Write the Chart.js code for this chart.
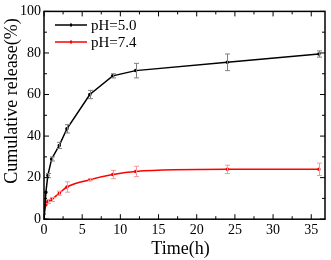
<!DOCTYPE html>
<html>
<head>
<meta charset="utf-8">
<script src="https://cdn.jsdelivr.net/npm/chart.js@4.4.0/dist/chart.umd.min.js"></script>
<style>
  html, body { margin: 0; padding: 0; background: #fff; }
</style>
</head>
<body>
<canvas id="myChartRelease" width="331" height="260"></canvas>
<script>
const times = [0, 0.25, 0.5, 1, 2, 3, 6, 9, 12, 24, 36]
const release50 = [0, 13, 21, 29, 35.5, 43.5, 60, 69, 71.5, 75.5, 79.5]
const err50 = [0, 0, 1, 1, 1.5, 2, 2, 1, 3.5, 4, 1.5]
const release74 = [2.5, 7, 8.5, 9.5, 12.5, 15.5, 19, 21.5, 23, 24, 24]
const err74 = [0, 0, 1, 1, 1, 2.5, 0.5, 2, 2.5, 2, 3]
const xTicks = [0, 5, 10, 15, 20, 25, 30, 35]
const yTicks = [0, 20, 40, 60, 80, 100]

const FONT = "'Liberation Serif', 'Times New Roman', serif"

const toPoints = (xs, ys) => xs.map((x, i) => ({ x: x, y: ys[i] }))

// error bars + inward ticks + frame + legend + axis titles
const extras = {
    id: 'extras',
    afterDatasetsDraw(chart) {
        const c = chart.ctx
        const xs = chart.scales.x, ys = chart.scales.y
        const errs = [err50, err74]
        const errColors = ['#808080', '#f39a9a']
        chart.data.datasets.forEach((ds, d) => {
            c.save()
            c.strokeStyle = errColors[d]
            c.lineWidth = 1
            ds.data.forEach((p, i) => {
                const e = errs[d][i]
                if (!e) return
                const px = Math.round(xs.getPixelForValue(p.x)) + 0.5
                const top = ys.getPixelForValue(p.y + e)
                const bot = ys.getPixelForValue(p.y - e)
                c.beginPath()
                c.moveTo(px, top); c.lineTo(px, bot)
                c.moveTo(px - 2.5, top); c.lineTo(px + 2.5, top)
                c.moveTo(px - 2.5, bot); c.lineTo(px + 2.5, bot)
                c.stroke()
            })
            c.restore()
        })
        const a = chart.chartArea
        c.save()
        c.strokeStyle = '#000'
        c.lineWidth = 1.5
        c.strokeRect(a.left, a.top, a.right - a.left, a.bottom - a.top)
        c.lineWidth = 1
        c.beginPath()
        for (let v = 0; v <= 37; v += 2.5) {
            const px = xs.getPixelForValue(v)
            const len = (v % 5 === 0) ? 5 : 3
            c.moveTo(px, a.bottom); c.lineTo(px, a.bottom - len)
            c.moveTo(px, a.top); c.lineTo(px, a.top + len)
        }
        for (let v = 0; v <= 100; v += 10) {
            const py = ys.getPixelForValue(v)
            const len = (v % 20 === 0) ? 5 : 3
            c.moveTo(a.left, py); c.lineTo(a.left + len, py)
            c.moveTo(a.right, py); c.lineTo(a.right - len, py)
        }
        c.stroke()
        // legend
        c.font = '15px ' + FONT
        c.textBaseline = 'middle'
        chart.data.datasets.forEach((ds, d) => {
            const ly = 25 + d * 17
            c.strokeStyle = ds.borderColor
            c.lineWidth = 1.5
            c.beginPath(); c.moveTo(55, ly); c.lineTo(87, ly); c.stroke()
            c.fillStyle = ds.borderColor
            c.fillRect(70, ly - 1.5, 2, 3)
            c.fillStyle = '#000'
            c.fillText(ds.label, 91, ly + 1)
        })
        // axis titles
        c.font = '18px ' + FONT
        c.textAlign = 'center'
        c.fillText('Time(h)', (a.left + a.right) / 2 - 4, 249)
        c.translate(12, 101)
        c.rotate(-Math.PI / 2)
        c.fillText('Cumulative release(%)', 0, 0)
        c.restore()
    }
}

var ctx = document.getElementById('myChartRelease')
var myChart = new Chart(ctx, {
    type: 'line',
    data: {
        datasets: [{
            label: 'pH=5.0',
            data: toPoints(times, release50),
            borderColor: '#000000',
            backgroundColor: '#000000',
            borderWidth: 1.5,
            pointRadius: 1,
            tension: 0
        }, {
            label: 'pH=7.4',
            data: toPoints(times, release74),
            borderColor: '#ff0000',
            backgroundColor: '#ff0000',
            borderWidth: 1.5,
            pointRadius: 1,
            cubicInterpolationMode: 'monotone'
        }]
    },
    plugins: [extras],
    options: {
        responsive: false,
        animation: false,
        devicePixelRatio: 1,
        layout: { padding: { top: 5, right: 6, bottom: 18, left: 17 } },
        plugins: { legend: { display: false }, tooltip: { enabled: false } },
        scales: {
            x: {
                type: 'linear',
                min: 0, max: 36.8,
                afterBuildTicks: s => { s.ticks = xTicks.map(v => ({ value: v })) },
                grid: { display: false, drawTicks: false },
                border: { display: false },
                ticks: { color: '#000', font: { family: FONT, size: 14 }, padding: 3, maxRotation: 0 }
            },
            y: {
                min: 0, max: 100,
                afterBuildTicks: s => { s.ticks = yTicks.map(v => ({ value: v })) },
                grid: { display: false, drawTicks: false },
                border: { display: false },
                ticks: { color: '#000', font: { family: FONT, size: 14 }, padding: 3 }
            }
        }
    }
})
</script>
</body>
</html>
